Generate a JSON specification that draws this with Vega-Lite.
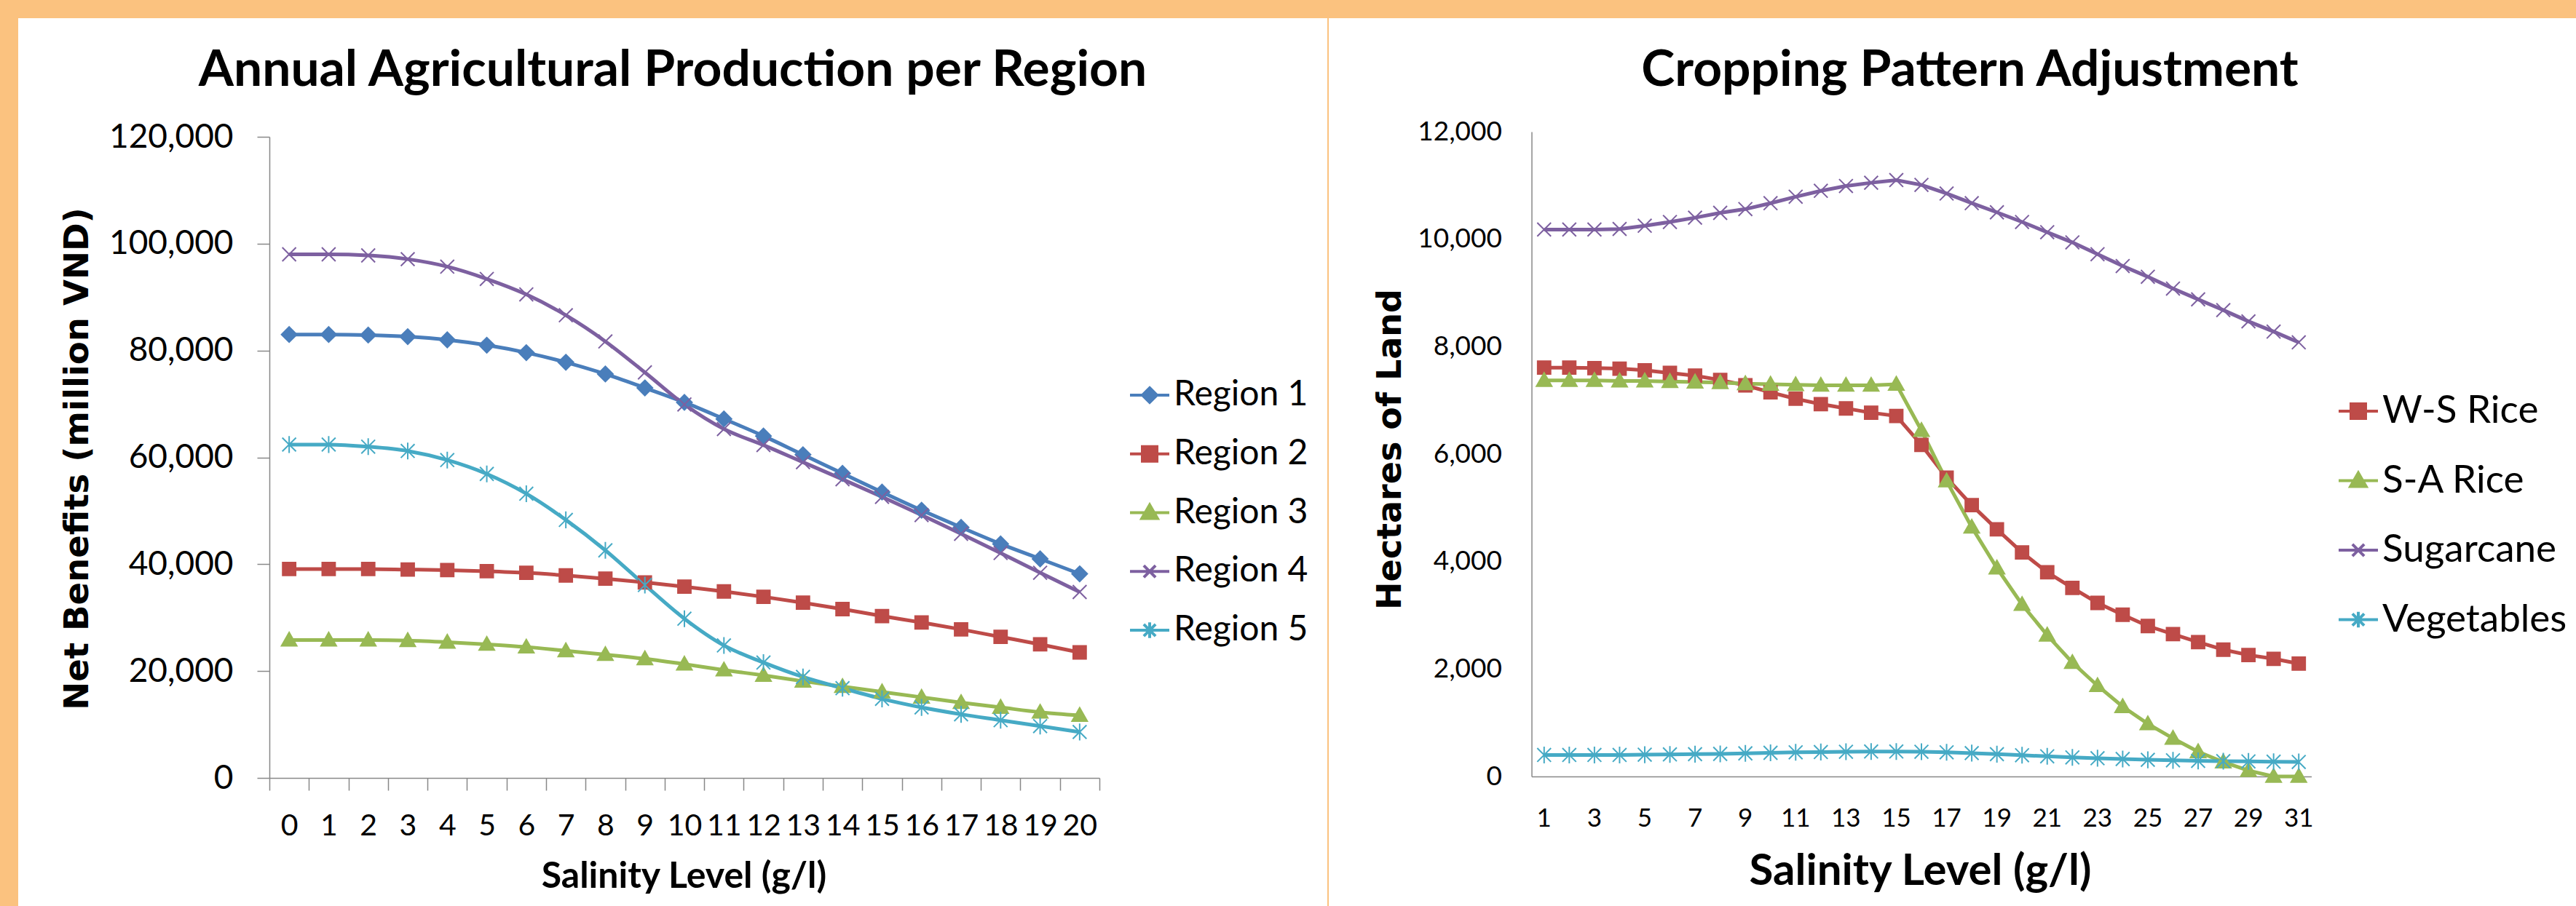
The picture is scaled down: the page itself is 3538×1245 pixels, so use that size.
{
  "$schema": "https://vega.github.io/schema/vega-lite/v6.json",
  "autosize": {"type": "pad", "resize": false},
  "padding": {"top": 25, "left": 25, "right": 0, "bottom": 0},
  "background": "#FBC27F",
  "config": {
    "view": {"fill": "white", "stroke": null},
    "axis": {"domainColor": "#888888", "tickColor": "#888888", "domainWidth": 1.5, "tickWidth": 1.5, "grid": false, "labelColor": "#000000", "titleColor": "#000000", "labelFont": "Lato", "titleFont": "Lato"},
    "legend": {"labelFont": "Lato", "labelColor": "#000000"}
  },
  "resolve": {"scale": {"fill": "independent", "shape": "independent", "stroke": "independent"}, "legend": {"fill": "independent", "shape": "independent", "stroke": "independent"}},
  "bounds": "flush",
  "spacing": 2,
  "hconcat": [
    {
      "width": 1798,
      "height": 1220,
      "title": {"text": "Annual Agricultural Production per Region", "font": "Lato", "fontSize": 69.5, "fontWeight": "bold", "color": "#000000", "anchor": "middle", "frame": "group", "offset": -107},
      "data": {"values": [
        {"salinity": 0, "region": "Region 1", "benefit": 83000}, {"salinity": 1, "region": "Region 1", "benefit": 83000}, {"salinity": 2, "region": "Region 1", "benefit": 82900}, {"salinity": 3, "region": "Region 1", "benefit": 82600}, {"salinity": 4, "region": "Region 1", "benefit": 82000}, {"salinity": 5, "region": "Region 1", "benefit": 81000}, {"salinity": 6, "region": "Region 1", "benefit": 79600}, {"salinity": 7, "region": "Region 1", "benefit": 77800}, {"salinity": 8, "region": "Region 1", "benefit": 75600}, {"salinity": 9, "region": "Region 1", "benefit": 73000}, {"salinity": 10, "region": "Region 1", "benefit": 70300}, {"salinity": 11, "region": "Region 1", "benefit": 67200}, {"salinity": 12, "region": "Region 1", "benefit": 64000}, {"salinity": 13, "region": "Region 1", "benefit": 60500}, {"salinity": 14, "region": "Region 1", "benefit": 57000}, {"salinity": 15, "region": "Region 1", "benefit": 53500}, {"salinity": 16, "region": "Region 1", "benefit": 50100}, {"salinity": 17, "region": "Region 1", "benefit": 46900}, {"salinity": 18, "region": "Region 1", "benefit": 43800}, {"salinity": 19, "region": "Region 1", "benefit": 41000}, {"salinity": 20, "region": "Region 1", "benefit": 38200},
        {"salinity": 0, "region": "Region 2", "benefit": 39100}, {"salinity": 1, "region": "Region 2", "benefit": 39100}, {"salinity": 2, "region": "Region 2", "benefit": 39100}, {"salinity": 3, "region": "Region 2", "benefit": 39000}, {"salinity": 4, "region": "Region 2", "benefit": 38900}, {"salinity": 5, "region": "Region 2", "benefit": 38700}, {"salinity": 6, "region": "Region 2", "benefit": 38400}, {"salinity": 7, "region": "Region 2", "benefit": 37900}, {"salinity": 8, "region": "Region 2", "benefit": 37300}, {"salinity": 9, "region": "Region 2", "benefit": 36600}, {"salinity": 10, "region": "Region 2", "benefit": 35800}, {"salinity": 11, "region": "Region 2", "benefit": 34900}, {"salinity": 12, "region": "Region 2", "benefit": 33900}, {"salinity": 13, "region": "Region 2", "benefit": 32800}, {"salinity": 14, "region": "Region 2", "benefit": 31600}, {"salinity": 15, "region": "Region 2", "benefit": 30300}, {"salinity": 16, "region": "Region 2", "benefit": 29100}, {"salinity": 17, "region": "Region 2", "benefit": 27800}, {"salinity": 18, "region": "Region 2", "benefit": 26400}, {"salinity": 19, "region": "Region 2", "benefit": 25000}, {"salinity": 20, "region": "Region 2", "benefit": 23500},
        {"salinity": 0, "region": "Region 3", "benefit": 25800}, {"salinity": 1, "region": "Region 3", "benefit": 25800}, {"salinity": 2, "region": "Region 3", "benefit": 25800}, {"salinity": 3, "region": "Region 3", "benefit": 25700}, {"salinity": 4, "region": "Region 3", "benefit": 25400}, {"salinity": 5, "region": "Region 3", "benefit": 25000}, {"salinity": 6, "region": "Region 3", "benefit": 24500}, {"salinity": 7, "region": "Region 3", "benefit": 23800}, {"salinity": 8, "region": "Region 3", "benefit": 23100}, {"salinity": 9, "region": "Region 3", "benefit": 22300}, {"salinity": 10, "region": "Region 3", "benefit": 21300}, {"salinity": 11, "region": "Region 3", "benefit": 20200}, {"salinity": 12, "region": "Region 3", "benefit": 19200}, {"salinity": 13, "region": "Region 3", "benefit": 18100}, {"salinity": 14, "region": "Region 3", "benefit": 17100}, {"salinity": 15, "region": "Region 3", "benefit": 16100}, {"salinity": 16, "region": "Region 3", "benefit": 15100}, {"salinity": 17, "region": "Region 3", "benefit": 14100}, {"salinity": 18, "region": "Region 3", "benefit": 13200}, {"salinity": 19, "region": "Region 3", "benefit": 12300}, {"salinity": 20, "region": "Region 3", "benefit": 11700},
        {"salinity": 0, "region": "Region 4", "benefit": 98000}, {"salinity": 1, "region": "Region 4", "benefit": 98000}, {"salinity": 2, "region": "Region 4", "benefit": 97800}, {"salinity": 3, "region": "Region 4", "benefit": 97100}, {"salinity": 4, "region": "Region 4", "benefit": 95700}, {"salinity": 5, "region": "Region 4", "benefit": 93400}, {"salinity": 6, "region": "Region 4", "benefit": 90500}, {"salinity": 7, "region": "Region 4", "benefit": 86600}, {"salinity": 8, "region": "Region 4", "benefit": 81700}, {"salinity": 9, "region": "Region 4", "benefit": 75900}, {"salinity": 10, "region": "Region 4", "benefit": 69900}, {"salinity": 11, "region": "Region 4", "benefit": 65300}, {"salinity": 12, "region": "Region 4", "benefit": 62300}, {"salinity": 13, "region": "Region 4", "benefit": 59100}, {"salinity": 14, "region": "Region 4", "benefit": 55900}, {"salinity": 15, "region": "Region 4", "benefit": 52600}, {"salinity": 16, "region": "Region 4", "benefit": 49200}, {"salinity": 17, "region": "Region 4", "benefit": 45700}, {"salinity": 18, "region": "Region 4", "benefit": 42100}, {"salinity": 19, "region": "Region 4", "benefit": 38400}, {"salinity": 20, "region": "Region 4", "benefit": 34800},
        {"salinity": 0, "region": "Region 5", "benefit": 62400}, {"salinity": 1, "region": "Region 5", "benefit": 62400}, {"salinity": 2, "region": "Region 5", "benefit": 62000}, {"salinity": 3, "region": "Region 5", "benefit": 61200}, {"salinity": 4, "region": "Region 5", "benefit": 59500}, {"salinity": 5, "region": "Region 5", "benefit": 56900}, {"salinity": 6, "region": "Region 5", "benefit": 53200}, {"salinity": 7, "region": "Region 5", "benefit": 48300}, {"salinity": 8, "region": "Region 5", "benefit": 42600}, {"salinity": 9, "region": "Region 5", "benefit": 36100}, {"salinity": 10, "region": "Region 5", "benefit": 29800}, {"salinity": 11, "region": "Region 5", "benefit": 24800}, {"salinity": 12, "region": "Region 5", "benefit": 21600}, {"salinity": 13, "region": "Region 5", "benefit": 18900}, {"salinity": 14, "region": "Region 5", "benefit": 16800}, {"salinity": 15, "region": "Region 5", "benefit": 14800}, {"salinity": 16, "region": "Region 5", "benefit": 13200}, {"salinity": 17, "region": "Region 5", "benefit": 11900}, {"salinity": 18, "region": "Region 5", "benefit": 10800}, {"salinity": 19, "region": "Region 5", "benefit": 9700}, {"salinity": 20, "region": "Region 5", "benefit": 8600}
      ]},
      "encoding": {
        "x": {"field": "salinity", "type": "ordinal", "bandPosition": 0.5,
          "scale": {"type": "band", "range": [345, 1485], "paddingInner": 0, "paddingOuter": 0},
          "axis": {"title": "Salinity Level (g/l)", "offset": -176, "labelAngle": 0, "labelFontSize": 41, "labelPadding": 61, "labelBaseline": "alphabetic", "labelOverlap": false, "tickBand": "extent", "tickSize": 17, "titleFontSize": 50, "titleFontWeight": "bold", "titleX": 914, "titleY": 150, "titleBaseline": "alphabetic", "titleAlign": "center"}},
        "y": {"field": "benefit", "type": "quantitative",
          "scale": {"domain": [0, 120000], "range": [1044, 163], "nice": false, "zero": true},
          "axis": {"title": "Net Benefits (million VND)", "offset": -345, "values": [0, 20000, 40000, 60000, 80000, 100000, 120000], "format": ",d", "labelFontSize": 46, "labelPadding": 33, "tickSize": 17, "titleFont": "DejaVu Sans", "titleFontSize": 46.5, "titleFontWeight": "bold", "titleX": -250, "titleY": 605, "titleAngle": -90, "titleBaseline": "alphabetic", "titleAlign": "center"}}
      },
      "layer": [
        {"mark": {"type": "line", "interpolate": "monotone", "strokeWidth": 5},
          "encoding": {"stroke": {"field": "region", "type": "nominal",
            "scale": {"domain": ["Region 1", "Region 2", "Region 3", "Region 4", "Region 5"], "range": ["#4A7EBB", "#BE4B48", "#98B954", "#7D60A0", "#46AAC5"]},
            "legend": {"title": null, "orient": "none", "legendX": 1525, "legendY": 489, "labelFontSize": 48, "labelOffset": 4, "labelLimit": 500, "symbolSize": 2916, "symbolStrokeWidth": 4, "symbolOpacity": 1, "rowPadding": 27.75}}}},
        {"transform": [{"filter": "datum.region == 'Region 1'"}], "mark": {"type": "point", "shape": "M0,-1L1,0L0,1L-1,0Z", "filled": true, "fill": "#4A7EBB", "stroke": "#4A7EBB", "strokeWidth": 2, "size": 440, "opacity": 1}},
        {"transform": [{"filter": "datum.region == 'Region 2'"}], "mark": {"type": "point", "shape": "M-0.85,-0.85H0.85V0.85H-0.85Z", "filled": true, "fill": "#BE4B48", "stroke": "#BE4B48", "strokeWidth": 2, "size": 440, "opacity": 1}},
        {"transform": [{"filter": "datum.region == 'Region 3'"}], "mark": {"type": "point", "shape": "M0,-1L1,0.75L-1,0.75Z", "filled": true, "fill": "#98B954", "stroke": "#98B954", "strokeWidth": 2, "size": 440, "opacity": 1}},
        {"transform": [{"filter": "datum.region == 'Region 4'"}], "mark": {"type": "point", "shape": "M-0.9,-0.9L0.9,0.9M-0.9,0.9L0.9,-0.9", "filled": false, "stroke": "#7D60A0", "strokeWidth": 2, "size": 440, "opacity": 1}},
        {"transform": [{"filter": "datum.region == 'Region 5'"}], "mark": {"type": "point", "shape": "M-0.9,-0.9L0.9,0.9M-0.9,0.9L0.9,-0.9M0,-1.1V1.1", "filled": false, "stroke": "#46AAC5", "strokeWidth": 2, "size": 440, "opacity": 1}},
        {"transform": [{"filter": "false"}], "mark": {"type": "point", "filled": true, "strokeWidth": 4},
          "encoding": {
            "fill": {"field": "region", "type": "nominal",
              "scale": {"domain": ["Region 1", "Region 2", "Region 3", "Region 4", "Region 5"], "range": ["#4A7EBB", "#BE4B48", "#98B954", "#7D60A0", "#46AAC5"]},
              "legend": {"title": null, "orient": "none", "legendX": 1525, "legendY": 489, "labelFontSize": 48, "labelOffset": 4, "labelLimit": 500, "symbolSize": 2916, "symbolStrokeWidth": 4, "symbolOpacity": 1, "rowPadding": 27.75}},
            "stroke": {"field": "region", "type": "nominal",
              "scale": {"domain": ["Region 1", "Region 2", "Region 3", "Region 4", "Region 5"], "range": ["#4A7EBB", "#BE4B48", "#98B954", "#7D60A0", "#46AAC5"]},
              "legend": {"title": null, "orient": "none", "legendX": 1525, "legendY": 489, "labelFontSize": 48, "labelOffset": 4, "labelLimit": 500, "symbolSize": 2916, "symbolStrokeWidth": 4, "symbolOpacity": 1, "rowPadding": 27.75}},
            "shape": {"field": "region", "type": "nominal",
              "scale": {"domain": ["Region 1", "Region 2", "Region 3", "Region 4", "Region 5"], "range": ["M-1,0H1M0,-0.37L0.37,0L0,0.37L-0.37,0Z", "M-1,0H1M-0.37,-0.37H0.37V0.37H-0.37Z", "M-1,0H1M0,-0.4L0.4,0.3L-0.4,0.3Z", "M-1,0H1M-0.3,-0.3L0.3,0.3M-0.3,0.3L0.3,-0.3", "M-1,0H1M-0.3,-0.3L0.3,0.3M-0.3,0.3L0.3,-0.3M0,-0.4V0.4"]},
              "legend": {"title": null, "orient": "none", "legendX": 1525, "legendY": 489, "labelFontSize": 48, "labelOffset": 4, "labelLimit": 500, "symbolSize": 2916, "symbolStrokeWidth": 4, "symbolOpacity": 1, "rowPadding": 27.75}}
          }}
      ]
    },
    {
      "width": 1713,
      "height": 1220,
      "title": {"text": "Cropping Pattern Adjustment", "font": "Lato", "fontSize": 69.5, "fontWeight": "bold", "color": "#000000", "anchor": "middle", "frame": "group", "offset": -107, "dx": 24},
      "data": {"values": [
        {"salinity": 1, "crop": "W-S Rice", "hectares": 7610}, {"salinity": 2, "crop": "W-S Rice", "hectares": 7610}, {"salinity": 3, "crop": "W-S Rice", "hectares": 7600}, {"salinity": 4, "crop": "W-S Rice", "hectares": 7590}, {"salinity": 5, "crop": "W-S Rice", "hectares": 7560}, {"salinity": 6, "crop": "W-S Rice", "hectares": 7510}, {"salinity": 7, "crop": "W-S Rice", "hectares": 7460}, {"salinity": 8, "crop": "W-S Rice", "hectares": 7380}, {"salinity": 9, "crop": "W-S Rice", "hectares": 7280}, {"salinity": 10, "crop": "W-S Rice", "hectares": 7150}, {"salinity": 11, "crop": "W-S Rice", "hectares": 7030}, {"salinity": 12, "crop": "W-S Rice", "hectares": 6930}, {"salinity": 13, "crop": "W-S Rice", "hectares": 6850}, {"salinity": 14, "crop": "W-S Rice", "hectares": 6770}, {"salinity": 15, "crop": "W-S Rice", "hectares": 6710}, {"salinity": 16, "crop": "W-S Rice", "hectares": 6170}, {"salinity": 17, "crop": "W-S Rice", "hectares": 5560}, {"salinity": 18, "crop": "W-S Rice", "hectares": 5050}, {"salinity": 19, "crop": "W-S Rice", "hectares": 4600}, {"salinity": 20, "crop": "W-S Rice", "hectares": 4170}, {"salinity": 21, "crop": "W-S Rice", "hectares": 3800}, {"salinity": 22, "crop": "W-S Rice", "hectares": 3510}, {"salinity": 23, "crop": "W-S Rice", "hectares": 3230}, {"salinity": 24, "crop": "W-S Rice", "hectares": 3010}, {"salinity": 25, "crop": "W-S Rice", "hectares": 2800}, {"salinity": 26, "crop": "W-S Rice", "hectares": 2650}, {"salinity": 27, "crop": "W-S Rice", "hectares": 2500}, {"salinity": 28, "crop": "W-S Rice", "hectares": 2360}, {"salinity": 29, "crop": "W-S Rice", "hectares": 2260}, {"salinity": 30, "crop": "W-S Rice", "hectares": 2190}, {"salinity": 31, "crop": "W-S Rice", "hectares": 2100},
        {"salinity": 1, "crop": "S-A Rice", "hectares": 7370}, {"salinity": 2, "crop": "S-A Rice", "hectares": 7370}, {"salinity": 3, "crop": "S-A Rice", "hectares": 7370}, {"salinity": 4, "crop": "S-A Rice", "hectares": 7360}, {"salinity": 5, "crop": "S-A Rice", "hectares": 7360}, {"salinity": 6, "crop": "S-A Rice", "hectares": 7350}, {"salinity": 7, "crop": "S-A Rice", "hectares": 7340}, {"salinity": 8, "crop": "S-A Rice", "hectares": 7330}, {"salinity": 9, "crop": "S-A Rice", "hectares": 7310}, {"salinity": 10, "crop": "S-A Rice", "hectares": 7300}, {"salinity": 11, "crop": "S-A Rice", "hectares": 7290}, {"salinity": 12, "crop": "S-A Rice", "hectares": 7280}, {"salinity": 13, "crop": "S-A Rice", "hectares": 7280}, {"salinity": 14, "crop": "S-A Rice", "hectares": 7280}, {"salinity": 15, "crop": "S-A Rice", "hectares": 7300}, {"salinity": 16, "crop": "S-A Rice", "hectares": 6440}, {"salinity": 17, "crop": "S-A Rice", "hectares": 5500}, {"salinity": 18, "crop": "S-A Rice", "hectares": 4640}, {"salinity": 19, "crop": "S-A Rice", "hectares": 3880}, {"salinity": 20, "crop": "S-A Rice", "hectares": 3200}, {"salinity": 21, "crop": "S-A Rice", "hectares": 2630}, {"salinity": 22, "crop": "S-A Rice", "hectares": 2120}, {"salinity": 23, "crop": "S-A Rice", "hectares": 1690}, {"salinity": 24, "crop": "S-A Rice", "hectares": 1300}, {"salinity": 25, "crop": "S-A Rice", "hectares": 980}, {"salinity": 26, "crop": "S-A Rice", "hectares": 710}, {"salinity": 27, "crop": "S-A Rice", "hectares": 460}, {"salinity": 28, "crop": "S-A Rice", "hectares": 270}, {"salinity": 29, "crop": "S-A Rice", "hectares": 110}, {"salinity": 30, "crop": "S-A Rice", "hectares": 0}, {"salinity": 31, "crop": "S-A Rice", "hectares": 0},
        {"salinity": 1, "crop": "Sugarcane", "hectares": 10180}, {"salinity": 2, "crop": "Sugarcane", "hectares": 10180}, {"salinity": 3, "crop": "Sugarcane", "hectares": 10180}, {"salinity": 4, "crop": "Sugarcane", "hectares": 10190}, {"salinity": 5, "crop": "Sugarcane", "hectares": 10250}, {"salinity": 6, "crop": "Sugarcane", "hectares": 10320}, {"salinity": 7, "crop": "Sugarcane", "hectares": 10400}, {"salinity": 8, "crop": "Sugarcane", "hectares": 10490}, {"salinity": 9, "crop": "Sugarcane", "hectares": 10560}, {"salinity": 10, "crop": "Sugarcane", "hectares": 10670}, {"salinity": 11, "crop": "Sugarcane", "hectares": 10790}, {"salinity": 12, "crop": "Sugarcane", "hectares": 10900}, {"salinity": 13, "crop": "Sugarcane", "hectares": 10990}, {"salinity": 14, "crop": "Sugarcane", "hectares": 11050}, {"salinity": 15, "crop": "Sugarcane", "hectares": 11100}, {"salinity": 16, "crop": "Sugarcane", "hectares": 11010}, {"salinity": 17, "crop": "Sugarcane", "hectares": 10850}, {"salinity": 18, "crop": "Sugarcane", "hectares": 10670}, {"salinity": 19, "crop": "Sugarcane", "hectares": 10500}, {"salinity": 20, "crop": "Sugarcane", "hectares": 10320}, {"salinity": 21, "crop": "Sugarcane", "hectares": 10130}, {"salinity": 22, "crop": "Sugarcane", "hectares": 9940}, {"salinity": 23, "crop": "Sugarcane", "hectares": 9720}, {"salinity": 24, "crop": "Sugarcane", "hectares": 9500}, {"salinity": 25, "crop": "Sugarcane", "hectares": 9300}, {"salinity": 26, "crop": "Sugarcane", "hectares": 9080}, {"salinity": 27, "crop": "Sugarcane", "hectares": 8880}, {"salinity": 28, "crop": "Sugarcane", "hectares": 8680}, {"salinity": 29, "crop": "Sugarcane", "hectares": 8470}, {"salinity": 30, "crop": "Sugarcane", "hectares": 8280}, {"salinity": 31, "crop": "Sugarcane", "hectares": 8080},
        {"salinity": 1, "crop": "Vegetables", "hectares": 400}, {"salinity": 2, "crop": "Vegetables", "hectares": 400}, {"salinity": 3, "crop": "Vegetables", "hectares": 400}, {"salinity": 4, "crop": "Vegetables", "hectares": 400}, {"salinity": 5, "crop": "Vegetables", "hectares": 405}, {"salinity": 6, "crop": "Vegetables", "hectares": 410}, {"salinity": 7, "crop": "Vegetables", "hectares": 415}, {"salinity": 8, "crop": "Vegetables", "hectares": 420}, {"salinity": 9, "crop": "Vegetables", "hectares": 430}, {"salinity": 10, "crop": "Vegetables", "hectares": 440}, {"salinity": 11, "crop": "Vegetables", "hectares": 450}, {"salinity": 12, "crop": "Vegetables", "hectares": 455}, {"salinity": 13, "crop": "Vegetables", "hectares": 460}, {"salinity": 14, "crop": "Vegetables", "hectares": 465}, {"salinity": 15, "crop": "Vegetables", "hectares": 465}, {"salinity": 16, "crop": "Vegetables", "hectares": 460}, {"salinity": 17, "crop": "Vegetables", "hectares": 450}, {"salinity": 18, "crop": "Vegetables", "hectares": 435}, {"salinity": 19, "crop": "Vegetables", "hectares": 415}, {"salinity": 20, "crop": "Vegetables", "hectares": 395}, {"salinity": 21, "crop": "Vegetables", "hectares": 375}, {"salinity": 22, "crop": "Vegetables", "hectares": 355}, {"salinity": 23, "crop": "Vegetables", "hectares": 340}, {"salinity": 24, "crop": "Vegetables", "hectares": 325}, {"salinity": 25, "crop": "Vegetables", "hectares": 310}, {"salinity": 26, "crop": "Vegetables", "hectares": 300}, {"salinity": 27, "crop": "Vegetables", "hectares": 290}, {"salinity": 28, "crop": "Vegetables", "hectares": 285}, {"salinity": 29, "crop": "Vegetables", "hectares": 280}, {"salinity": 30, "crop": "Vegetables", "hectares": 275}, {"salinity": 31, "crop": "Vegetables", "hectares": 270}
      ]},
      "encoding": {
        "x": {"field": "salinity", "type": "ordinal", "bandPosition": 0.5,
          "scale": {"type": "band", "range": [278.5, 1349.5], "paddingInner": 0, "paddingOuter": 0},
          "axis": {"title": "Salinity Level (g/l)", "offset": -178, "values": [1, 3, 5, 7, 9, 11, 13, 15, 17, 19, 21, 23, 25, 27, 29, 31], "labelAngle": 0, "labelFontSize": 35, "labelPadding": 68, "labelBaseline": "alphabetic", "labelOverlap": false, "ticks": false, "tickSize": 0, "titleFontSize": 60, "titleFontWeight": "bold", "titleX": 812, "titleY": 148, "titleBaseline": "alphabetic", "titleAlign": "center"}},
        "y": {"field": "hectares", "type": "quantitative",
          "scale": {"domain": [0, 12000], "range": [1042, 156], "nice": false, "zero": true},
          "axis": {"title": "Hectares of Land", "offset": -278.5, "values": [0, 2000, 4000, 6000, 8000, 10000, 12000], "format": ",d", "labelFontSize": 37, "labelPadding": 41, "ticks": false, "tickSize": 0, "titleFont": "DejaVu Sans", "titleFontSize": 46, "titleFontWeight": "bold", "titleX": -180, "titleY": 592, "titleAngle": -90, "titleBaseline": "alphabetic", "titleAlign": "center"}}
      },
      "layer": [
        {"mark": {"type": "line", "interpolate": "linear", "strokeWidth": 5},
          "encoding": {"stroke": {"field": "crop", "type": "nominal",
            "scale": {"domain": ["W-S Rice", "S-A Rice", "Sugarcane", "Vegetables"], "range": ["#BE4B48", "#98B954", "#7D60A0", "#46AAC5"]},
            "legend": {"title": null, "orient": "none", "legendX": 1385, "legendY": 511, "labelFontSize": 53, "labelOffset": 4, "labelLimit": 270, "symbolSize": 2916, "symbolStrokeWidth": 4, "symbolOpacity": 1, "rowPadding": 39.5}}}},
        {"transform": [{"filter": "datum.crop == 'W-S Rice'"}], "mark": {"type": "point", "shape": "M-0.85,-0.85H0.85V0.85H-0.85Z", "filled": true, "fill": "#BE4B48", "stroke": "#BE4B48", "strokeWidth": 2, "size": 440, "opacity": 1}},
        {"transform": [{"filter": "datum.crop == 'S-A Rice'"}], "mark": {"type": "point", "shape": "M0,-1L1,0.75L-1,0.75Z", "filled": true, "fill": "#98B954", "stroke": "#98B954", "strokeWidth": 2, "size": 440, "opacity": 1}},
        {"transform": [{"filter": "datum.crop == 'Sugarcane'"}], "mark": {"type": "point", "shape": "M-0.9,-0.9L0.9,0.9M-0.9,0.9L0.9,-0.9", "filled": false, "stroke": "#7D60A0", "strokeWidth": 2, "size": 440, "opacity": 1}},
        {"transform": [{"filter": "datum.crop == 'Vegetables'"}], "mark": {"type": "point", "shape": "M-0.9,-0.9L0.9,0.9M-0.9,0.9L0.9,-0.9M0,-1.1V1.1", "filled": false, "stroke": "#46AAC5", "strokeWidth": 2, "size": 440, "opacity": 1}},
        {"transform": [{"filter": "false"}], "mark": {"type": "point", "filled": true, "strokeWidth": 4},
          "encoding": {
            "fill": {"field": "crop", "type": "nominal",
              "scale": {"domain": ["W-S Rice", "S-A Rice", "Sugarcane", "Vegetables"], "range": ["#BE4B48", "#98B954", "#7D60A0", "#46AAC5"]},
              "legend": {"title": null, "orient": "none", "legendX": 1385, "legendY": 511, "labelFontSize": 53, "labelOffset": 4, "labelLimit": 270, "symbolSize": 2916, "symbolStrokeWidth": 4, "symbolOpacity": 1, "rowPadding": 39.5}},
            "stroke": {"field": "crop", "type": "nominal",
              "scale": {"domain": ["W-S Rice", "S-A Rice", "Sugarcane", "Vegetables"], "range": ["#BE4B48", "#98B954", "#7D60A0", "#46AAC5"]},
              "legend": {"title": null, "orient": "none", "legendX": 1385, "legendY": 511, "labelFontSize": 53, "labelOffset": 4, "labelLimit": 270, "symbolSize": 2916, "symbolStrokeWidth": 4, "symbolOpacity": 1, "rowPadding": 39.5}},
            "shape": {"field": "crop", "type": "nominal",
              "scale": {"domain": ["W-S Rice", "S-A Rice", "Sugarcane", "Vegetables"], "range": ["M-1,0H1M-0.37,-0.37H0.37V0.37H-0.37Z", "M-1,0H1M0,-0.4L0.4,0.3L-0.4,0.3Z", "M-1,0H1M-0.3,-0.3L0.3,0.3M-0.3,0.3L0.3,-0.3", "M-1,0H1M-0.3,-0.3L0.3,0.3M-0.3,0.3L0.3,-0.3M0,-0.4V0.4"]},
              "legend": {"title": null, "orient": "none", "legendX": 1385, "legendY": 511, "labelFontSize": 53, "labelOffset": 4, "labelLimit": 270, "symbolSize": 2916, "symbolStrokeWidth": 4, "symbolOpacity": 1, "rowPadding": 39.5}}
          }}
      ]
    }
  ]
}
